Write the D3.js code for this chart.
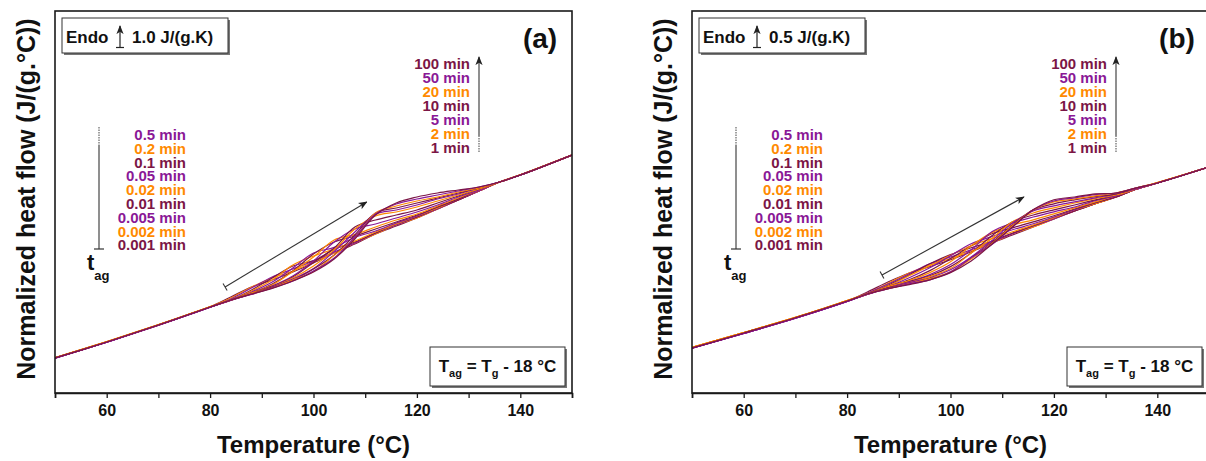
<!DOCTYPE html>
<html><head><meta charset="utf-8">
<script src="https://cdn.jsdelivr.net/npm/d3@7"></script>
<style>body{margin:0;background:#fff}svg{display:block;font-family:"Liberation Sans",Arial,sans-serif}</style>
</head><body>
<svg id="chart" width="1206" height="461"></svg>
<script>
// ---------------- data ----------------
const temperatures = [50,60,70,80,84,88,92,96,100,104,108,112,116,120,124,128,132,136,140,150];
const agingTimes = ["0.001 min","0.002 min","0.005 min","0.01 min","0.02 min","0.05 min","0.1 min","0.2 min","0.5 min","1 min","2 min","5 min","10 min","20 min","50 min","100 min"];
const seriesColors = ["#7b1646","#ff8a00","#8a1896"]; // maroon, orange, purple (cycled)
const xTickValues = [50,60,70,80,90,100,110,120,130,140,150];
const xTickLabels = [60,80,100,120,140];

// panel (a): normalized heat flow, J/(g.°C) (arbitrary offset), one row per aging time
const heatFlowA = [
 [1.76,2.55,3.41,4.31,4.80,5.30,5.65,6.05,6.50,7.00,7.45,7.95,8.35,8.75,9.20,9.65,10.10,10.55,10.90,11.90],
 [1.77,2.57,3.42,4.32,4.75,5.30,5.75,6.10,6.55,7.00,7.50,7.95,8.40,8.75,9.20,9.65,10.10,10.55,10.91,11.90],
 [1.74,2.54,3.39,4.29,4.70,5.25,5.80,6.20,6.60,7.05,7.50,8.00,8.40,8.80,9.20,9.65,10.10,10.55,10.90,11.90],
 [1.75,2.56,3.40,4.30,4.65,5.15,5.75,6.35,6.62,7.18,7.55,8.00,8.45,8.80,9.25,9.65,10.10,10.55,10.90,11.90],
 [1.76,2.56,3.41,4.31,4.65,5.10,5.65,6.40,6.85,7.20,7.60,8.05,8.45,8.85,9.25,9.70,10.10,10.55,10.91,11.91],
 [1.74,2.54,3.40,4.29,4.65,5.05,5.55,6.25,7.00,7.28,7.78,8.10,8.50,8.85,9.30,9.70,10.10,10.55,10.90,11.90],
 [1.75,2.55,3.39,4.30,4.65,5.00,5.45,6.10,6.95,7.55,7.85,8.20,8.55,8.90,9.30,9.70,10.15,10.55,10.90,11.90],
 [1.77,2.56,3.41,4.31,4.65,5.00,5.40,6.08,6.80,7.65,7.92,8.30,8.65,8.95,9.35,9.75,10.15,10.55,10.91,11.90],
 [1.74,2.54,3.39,4.29,4.63,4.98,5.35,5.85,6.60,7.55,8.20,8.45,8.75,9.05,9.40,9.80,10.15,10.55,10.90,11.90],
 [1.75,2.55,3.40,4.30,4.65,5.00,5.33,5.80,6.52,7.25,8.30,8.65,8.90,9.15,9.50,9.85,10.20,10.55,10.90,11.90],
 [1.76,2.56,3.41,4.30,4.64,5.00,5.30,5.75,6.35,7.15,8.20,8.85,9.05,9.30,9.60,9.90,10.20,10.55,10.90,11.90],
 [1.74,2.54,3.39,4.29,4.65,4.95,5.30,5.70,6.22,7.08,8.05,8.95,9.15,9.40,9.70,9.95,10.25,10.55,10.90,11.90],
 [1.75,2.55,3.40,4.30,4.64,4.95,5.28,5.65,6.20,6.90,7.90,9.00,9.25,9.50,9.75,10.00,10.25,10.55,10.90,11.90],
 [1.76,2.56,3.40,4.31,4.65,4.95,5.25,5.65,6.08,6.88,7.75,9.00,9.35,9.60,9.80,10.05,10.25,10.55,10.91,11.90],
 [1.74,2.54,3.39,4.29,4.64,4.93,5.25,5.60,6.10,6.75,7.80,8.95,9.45,9.70,9.90,10.10,10.30,10.55,10.90,11.90],
 [1.75,2.55,3.40,4.30,4.65,4.95,5.23,5.60,6.05,6.70,7.70,8.90,9.50,9.80,10.00,10.15,10.30,10.55,10.90,11.90]
];
// panel (b)
const heatFlowB = [
 [1.13,1.50,1.88,2.30,2.53,2.78,3.00,3.16,3.33,3.53,3.75,3.95,4.15,4.35,4.55,4.73,4.90,5.10,5.25,5.65],
 [1.14,1.51,1.89,2.31,2.50,2.75,3.00,3.20,3.36,3.55,3.75,3.98,4.15,4.35,4.55,4.73,4.90,5.10,5.25,5.65],
 [1.12,1.49,1.87,2.29,2.50,2.73,2.98,3.23,3.40,3.58,3.78,3.98,4.18,4.35,4.55,4.73,4.90,5.10,5.25,5.65],
 [1.13,1.50,1.88,2.30,2.48,2.70,2.95,3.23,3.46,3.63,3.80,4.00,4.18,4.38,4.55,4.73,4.90,5.10,5.25,5.65],
 [1.14,1.51,1.89,2.31,2.48,2.68,2.93,3.18,3.44,3.68,3.86,4.03,4.20,4.38,4.58,4.73,4.90,5.10,5.26,5.65],
 [1.12,1.49,1.87,2.29,2.48,2.66,2.88,3.13,3.43,3.73,3.91,4.08,4.23,4.40,4.58,4.76,4.90,5.10,5.25,5.65],
 [1.13,1.50,1.88,2.30,2.48,2.66,2.83,3.06,3.36,3.68,3.98,4.13,4.28,4.43,4.60,4.76,4.90,5.10,5.25,5.65],
 [1.14,1.51,1.89,2.31,2.48,2.66,2.81,3.01,3.28,3.68,4.01,4.20,4.33,4.48,4.63,4.78,4.93,5.10,5.26,5.65],
 [1.12,1.49,1.87,2.29,2.47,2.63,2.78,2.96,3.21,3.58,4.03,4.25,4.40,4.53,4.65,4.81,4.93,5.10,5.25,5.65],
 [1.13,1.50,1.88,2.30,2.48,2.63,2.78,2.93,3.16,3.50,3.93,4.28,4.45,4.58,4.70,4.83,4.95,5.10,5.25,5.65],
 [1.14,1.51,1.89,2.30,2.47,2.63,2.76,2.91,3.11,3.50,3.86,4.28,4.50,4.63,4.75,4.86,4.95,5.10,5.25,5.65],
 [1.12,1.49,1.87,2.29,2.48,2.63,2.76,2.88,3.08,3.40,3.81,4.25,4.55,4.68,4.78,4.88,4.98,5.10,5.25,5.65],
 [1.13,1.50,1.88,2.30,2.47,2.63,2.73,2.86,3.02,3.38,3.76,4.20,4.58,4.73,4.83,4.91,4.98,5.13,5.25,5.65],
 [1.14,1.51,1.88,2.31,2.48,2.61,2.73,2.86,3.03,3.35,3.73,4.18,4.58,4.78,4.85,4.93,5.00,5.13,5.26,5.65],
 [1.12,1.49,1.87,2.29,2.47,2.61,2.73,2.83,3.03,3.38,3.71,4.15,4.58,4.80,4.88,4.96,5.00,5.13,5.25,5.65],
 [1.13,1.50,1.88,2.30,2.48,2.61,2.71,2.83,3.01,3.30,3.72,4.15,4.58,4.83,4.90,4.98,5.00,5.13,5.25,5.65]
];

// ---------------- drawing ----------------
const svg = d3.select("#chart");
const defs = svg.append("defs");
defs.append("marker").attr("id","ah").attr("viewBox","0 0 10 10").attr("refX",9).attr("refY",5)
  .attr("markerWidth",9).attr("markerHeight",9).attr("markerUnits","userSpaceOnUse").attr("orient","auto")
  .append("path").attr("d","M0,1 L10,5 L0,9 L2.5,5 Z").attr("fill","#222");

const plotTop = 11, plotBottom = 393;
const panels = [
  {key:"a", x0:55, x1:572, yDomain:[0,19.1], data:heatFlowA, scaleText:"1.0 J/(g.K)", label:"(a)", arrowFrom:[82.9,5.3], arrowTo:[110.3,9.55]},
  {key:"b", x0:692, x1:1209, yDomain:[0,9.55], data:heatFlowB, scaleText:"0.5 J/(g.K)", label:"(b)", arrowFrom:[86.75,2.95], arrowTo:[114.2,4.9]}
];

panels.forEach(p => {
  const dx = p.x0 - 55;
  const g = svg.append("g");
  const x = d3.scaleLinear().domain([50,150]).range([p.x0,p.x1]);
  const y = d3.scaleLinear().domain(p.yDomain).range([plotBottom,plotTop]);

  defs.append("clipPath").attr("id","clip"+p.key).append("rect")
    .attr("x",p.x0).attr("y",plotTop).attr("width",p.x1-p.x0).attr("height",plotBottom-plotTop);

  const line = d3.line().x((d,i)=>x(temperatures[i])).y(d=>y(d)).curve(d3.curveCatmullRom.alpha(0.5));
  g.append("g").attr("clip-path","url(#clip"+p.key+")")
    .selectAll("path").data(p.data).join("path")
    .attr("d",line).attr("fill","none")
    .attr("stroke",(d,i)=>seriesColors[i%3]).attr("stroke-width",1.2);

  // frame
  g.append("rect").attr("x",p.x0).attr("y",plotTop).attr("width",p.x1-p.x0).attr("height",plotBottom-plotTop)
    .attr("fill","none").attr("stroke","#1a1a1a").attr("stroke-width",1.6);

  // x axis
  const ax = g.append("g").attr("transform",`translate(0,${plotBottom})`)
    .call(d3.axisBottom(x).tickValues(xTickValues).tickSize(5).tickPadding(7)
      .tickFormat(d => xTickLabels.includes(d) ? d : ""));
  ax.select(".domain").attr("stroke","#1a1a1a").attr("stroke-width",1.6);
  ax.selectAll(".tick line").attr("stroke","#1a1a1a").attr("stroke-width",1.3);
  ax.selectAll(".tick text").attr("font-size",16).attr("font-weight","bold").attr("fill","#111")
    .attr("font-family","'Liberation Sans',Arial,sans-serif");

  // axis titles
  g.append("text").attr("x",(p.x0+p.x1)/2).attr("y",453).attr("text-anchor","middle")
    .attr("font-size",24).attr("font-weight","bold").attr("fill","#111").text("Temperature (°C)");
  g.append("text").attr("transform",`translate(${35+dx},199) rotate(-90)`).attr("text-anchor","middle")
    .attr("font-size",25).attr("font-weight","bold").attr("fill","#111").text("Normalized heat flow (J/(g.°C))");

  // Endo box
  g.append("rect").attr("x",64+dx).attr("y",20).attr("width",166).attr("height",35).attr("fill","#777");
  g.append("rect").attr("x",62+dx).attr("y",18).attr("width",166).attr("height",35).attr("fill","#fff")
    .attr("stroke","#333").attr("stroke-width",1);
  g.append("text").attr("x",66+dx).attr("y",43).attr("font-size",17).attr("font-weight","bold").attr("fill","#111").text("Endo");
  g.append("line").attr("x1",120+dx).attr("x2",120+dx).attr("y1",47).attr("y2",26)
    .attr("stroke","#222").attr("stroke-width",1.2).attr("marker-end","url(#ah)");
  g.append("line").attr("x1",116+dx).attr("x2",124+dx).attr("y1",47.5).attr("y2",47.5).attr("stroke","#222").attr("stroke-width",1.2);
  g.append("text").attr("x",132+dx).attr("y",43).attr("font-size",17).attr("font-weight","bold").attr("fill","#111").text(p.scaleText);

  // panel label
  g.append("text").attr("x",540+dx).attr("y",48).attr("text-anchor","middle")
    .attr("font-size",28).attr("font-weight","bold").attr("fill","#111").text(p.label);

  // right legend (1 .. 100 min), top to bottom = 100 .. 1
  const rightIdx = [15,14,13,12,11,10,9];
  g.selectAll("text.rl").data(rightIdx).join("text").attr("class","rl")
    .attr("x",470+dx).attr("y",(d,i)=>69+i*14).attr("text-anchor","end")
    .attr("font-size",15).attr("font-weight","bold").attr("fill",d=>seriesColors[d%3]).text(d=>agingTimes[d]);
  g.append("line").attr("x1",479+dx).attr("x2",479+dx).attr("y1",136).attr("y2",57)
    .attr("stroke","#333").attr("stroke-width",1.1).attr("marker-end","url(#ah)");
  g.append("line").attr("x1",479+dx).attr("x2",479+dx).attr("y1",152).attr("y2",136)
    .attr("stroke","#555").attr("stroke-width",1.1).attr("stroke-dasharray","1.5,1");

  // left legend (0.001 .. 0.5 min), top to bottom = 0.5 .. 0.001
  const leftIdx = [8,7,6,5,4,3,2,1,0];
  g.selectAll("text.ll").data(leftIdx).join("text").attr("class","ll")
    .attr("x",186+dx).attr("y",(d,i)=>140+i*13.8).attr("text-anchor","end")
    .attr("font-size",15).attr("font-weight","bold").attr("fill",d=>seriesColors[d%3]).text(d=>agingTimes[d]);
  g.append("line").attr("x1",99+dx).attr("x2",99+dx).attr("y1",127).attr("y2",145)
    .attr("stroke","#555").attr("stroke-width",1.1).attr("stroke-dasharray","1.5,1");
  g.append("line").attr("x1",99+dx).attr("x2",99+dx).attr("y1",145).attr("y2",249)
    .attr("stroke","#333").attr("stroke-width",1.1);
  g.append("line").attr("x1",94+dx).attr("x2",104+dx).attr("y1",249).attr("y2",249)
    .attr("stroke","#333").attr("stroke-width",1.2);
  const tag = g.append("text").attr("x",87+dx).attr("y",270).attr("font-weight","bold").attr("fill","#111");
  tag.append("tspan").attr("font-size",22).text("t");
  tag.append("tspan").attr("font-size",13).attr("dy",10).text("ag");

  // diagonal arrow
  const fx = x(p.arrowFrom[0]), fy = y(p.arrowFrom[1]), tx = x(p.arrowTo[0]), ty = y(p.arrowTo[1]);
  g.append("line").attr("x1",fx).attr("y1",fy).attr("x2",tx).attr("y2",ty)
    .attr("stroke","#333").attr("stroke-width",1.1).attr("marker-end","url(#ah)");
  const len = Math.hypot(tx-fx, ty-fy), nx = -(ty-fy)/len*4, ny = (tx-fx)/len*4;
  g.append("line").attr("x1",fx-nx).attr("y1",fy-ny).attr("x2",fx+nx).attr("y2",fy+ny)
    .attr("stroke","#333").attr("stroke-width",1.1);

  // T_ag box
  g.append("rect").attr("x",432+dx).attr("y",349).attr("width",135).attr("height",39).attr("fill","#777");
  g.append("rect").attr("x",430+dx).attr("y",347).attr("width",135).attr("height",39).attr("fill","#fff")
    .attr("stroke","#333").attr("stroke-width",1);
  const tt = g.append("text").attr("x",497.5+dx).attr("y",372).attr("text-anchor","middle")
    .attr("font-size",17).attr("font-weight","bold").attr("fill","#111");
  tt.append("tspan").text("T");
  tt.append("tspan").attr("font-size",11).attr("dy",5).text("ag");
  tt.append("tspan").attr("dy",-5).text(" = T");
  tt.append("tspan").attr("font-size",11).attr("dy",5).text("g");
  tt.append("tspan").attr("dy",-5).text(" - 18 °C");
});
</script>
</body></html>
